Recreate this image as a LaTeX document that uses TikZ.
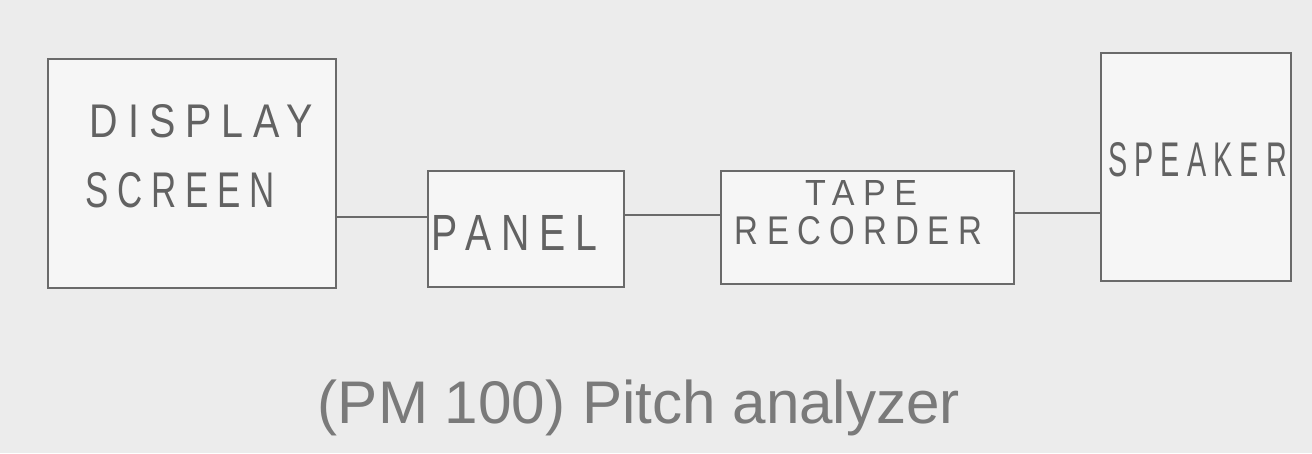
\documentclass[tikz,border=0pt]{standalone}
\usepackage{fontspec}
\setsansfont{Liberation Sans}
\newfontfamily\handfont[LetterSpace=25]{Liberation Sans}
\definecolor{paper}{HTML}{ECECEC}
\definecolor{inner}{HTML}{F6F6F6}
\definecolor{pencil}{HTML}{6A6A6A}
\definecolor{ink}{HTML}{626262}
\begin{document}
\begin{tikzpicture}[x=0.75pt,y=-0.75pt,
  boxnode/.style={draw=pencil,line width=1.6pt,fill=inner,inner sep=0pt,anchor=north west},
  txt/.style={text=ink,inner sep=0pt,font=\handfont},
  wire/.style={draw=pencil,line width=1.5pt}]
\fill[paper] (0,0) rectangle (1312,453);
\useasboundingbox (0,0) rectangle (1312,453);
% boxes
\node[boxnode,minimum width=216pt,minimum height=171.75pt] (disp) at (47,58) {};
\node[boxnode,minimum width=147pt,minimum height=87pt] (panel) at (427,170) {};
\node[boxnode,minimum width=219.75pt,minimum height=84.75pt] (tape) at (720,170) {};
\node[boxnode,minimum width=142.5pt,minimum height=171pt] (spk) at (1100,52) {};
% labels
\node[txt] (t1) at (201.5,121.5) {\resizebox{167.25pt}{24.75pt}{DISPLAY}};
\node[txt] (t2) at (180.5,190.5) {\resizebox{141.75pt}{26.25pt}{SCREEN}};
\node[txt] (t3) at (514.5,232.5) {\resizebox{123.75pt}{26.25pt}{PANEL}};
\node[txt] (t4) at (861,192.5) {\resizebox{84pt}{18.75pt}{TAPE}};
\node[txt] (t5) at (858.5,231) {\resizebox{185.25pt}{21pt}{RECORDER}};
\node[txt] (t6) at (1197.5,160) {\resizebox{134.25pt}{25.5pt}{SPEAKER}};
\node[txt,font=\sffamily,text=ink!85,anchor=base] (cap) at (639,423) {\resizebox{481.5pt}{!}{(PM 100) Pitch analyzer}};
% connectors
\coordinate (c1) at (0,217);
\coordinate (c2) at (0,215);
\coordinate (c3) at (0,213);
\draw[wire] (disp.east |- c1) -- (panel.west |- c1);
\draw[wire] (panel.east |- c2) -- (tape.west |- c2);
\draw[wire] (tape.east |- c3) -- (spk.west |- c3);
\end{tikzpicture}
\end{document}
